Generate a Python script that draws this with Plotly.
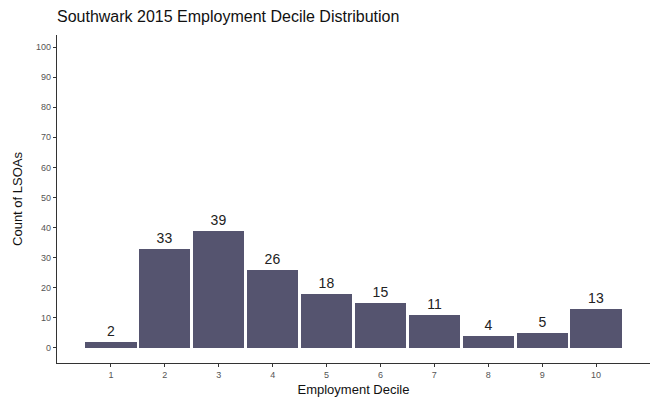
import plotly.graph_objects as go

deciles = [1, 2, 3, 4, 5, 6, 7, 8, 9, 10]
counts = [2, 33, 39, 26, 18, 15, 11, 4, 5, 13]
y_ticks = [0, 10, 20, 30, 40, 50, 60, 70, 80, 90, 100]
x_ticks = [1, 2, 3, 4, 5, 6, 7, 8, 9, 10]

fig = go.Figure(go.Bar(
    x=deciles, y=counts, width=0.95,
    marker=dict(color="#55546f", line=dict(width=0)),
    text=[str(c) for c in counts], textposition="outside",
    textfont=dict(family="Liberation Sans, Arial", size=14, color="#222"),
    cliponaxis=False,
))

fig.update_layout(
    width=652, height=405,
    margin=dict(l=57, r=2, t=35, b=42, autoexpand=False),
    plot_bgcolor="white", paper_bgcolor="white",
    title=dict(text="Southwark 2015 Employment Decile Distribution",
               x=57/652, xanchor="left", y=1-16/405, yanchor="middle",
               font=dict(family="Liberation Sans, Arial", size=16, color="#111")),
    showlegend=False, bargap=0,
    font=dict(family="Liberation Sans, Arial"),
)
fig.update_xaxes(
    range=[0, 11], tickvals=x_ticks, ticktext=[str(t) for t in x_ticks],
    automargin=False,
    showgrid=False, zeroline=False, showline=True, linecolor="#333", linewidth=1.2,
    ticks="outside", ticklen=3, tickcolor="#333",
    tickfont=dict(size=9, color="#555"),
    title=dict(text="Employment Decile", font=dict(size=13, color="#111"), standoff=5),
)
fig.update_yaxes(
    range=[-5, 104], tickvals=y_ticks, automargin=False,
    showgrid=False, zeroline=False, showline=True, linecolor="#333", linewidth=1.2,
    ticks="outside", ticklen=3, tickcolor="#333",
    tickfont=dict(size=9, color="#555"),
    title=dict(text="Count of LSOAs", font=dict(size=13, color="#111"), standoff=10),
)

fig.write_html("out.html", config={"displayModeBar": False},
               post_script="document.body.style.margin='0';document.body.style.overflow='hidden';")
